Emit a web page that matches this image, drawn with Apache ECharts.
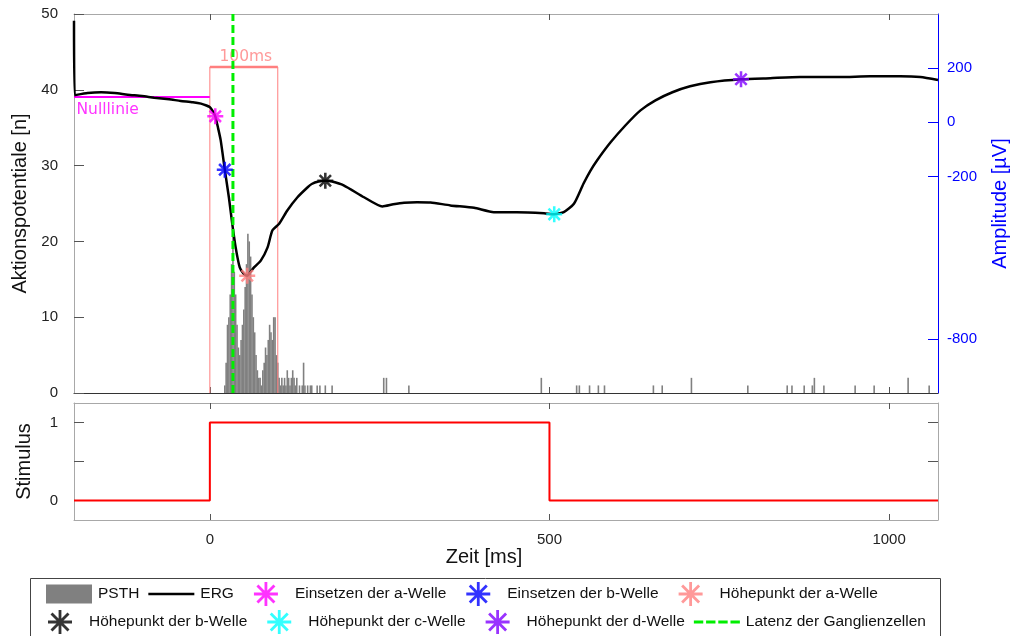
<!DOCTYPE html>
<html>
<head>
<meta charset="utf-8">
<script src="https://cdn.jsdelivr.net/npm/echarts@6/dist/echarts.min.js"></script>
<style>
  html, body { margin: 0; padding: 0; background: #fff; }
  #chart { width: 1013px; height: 636px; }
</style>
</head>
<body>
<div id="chart"></div>
<script>
// ---- time range and ticks (ms) ----
const T_MIN = -200;
const T_MAX = 1072;
const TIME_TICKS = [0, 500, 1000];

// ---- PSTH: bin start (ms) and spike count ----
const PSTH_T = [22, 24, 26, 28, 30, 32, 34, 36, 38, 40, 42, 44, 46, 48, 50, 52, 54, 56, 58, 60,
  62, 64, 66, 68, 70, 72, 74, 76, 78, 80, 82, 84, 86, 88, 90, 92, 94, 96, 98, 100,
  102, 104, 106, 108, 110, 112, 114, 116, 118, 120, 122, 124, 126, 128, 132, 136, 138, 140, 144, 148,
  150, 158, 162, 170, 180,
  256, 260, 293, 488, 540, 544, 559, 572, 581, 653, 666, 709, 792, 850, 857, 875, 887, 890, 904, 950, 978, 1028, 1059];
const PSTH_N = [1, 4, 9, 10, 13, 17, 21, 16, 13, 9, 6, 5, 7, 9, 11, 14, 17, 21, 20, 18,
  13, 10, 8, 5, 3, 2, 2, 1, 3, 4, 6, 5, 7, 9, 8, 7, 10, 10, 5, 4,
  2, 1, 2, 1, 2, 1, 3, 2, 1, 2, 3, 2, 1, 2, 1, 1, 4, 1, 1, 1,
  1, 1, 1, 1, 1,
  2, 2, 1, 2, 1, 1, 1, 1, 1, 1, 1, 2, 1, 1, 1, 1, 1, 2, 1, 1, 1, 2, 1];

// ---- ERG trace: time (ms) and amplitude (µV) ----
const ERG_T = [-200, -199, -180, -160, -140, -121, -100, -82, -60, -43, -25, -13, -5, 0, 4, 8, 12, 16, 22, 28,
  33, 38, 44, 50, 55, 60, 65, 75, 85, 92, 102, 114, 129, 144, 150, 160, 170, 180, 197, 227,
  254, 270, 286, 305, 325, 354, 389, 418, 452, 492, 507, 521, 536, 550, 560, 570, 590, 612, 634, 656,
  681, 707, 737, 782, 825, 869, 928, 972, 1016, 1046, 1072];
const ERG_UV = [375, 100, 108, 111, 108, 102, 97, 91, 85, 79, 74, 69, 62, 56, 42, 22, -20, -67, -175, -277,
  -375, -462, -536, -560, -567, -552, -536, -511, -462, -400, -375, -326, -277, -240, -228, -219, -216, -219, -233, -277,
  -311, -303, -297, -295, -296, -307, -316, -332, -332, -336, -340, -332, -301, -227, -180, -141, -74, -11, 44, 81,
  111, 133, 148, 159, 163, 167, 167, 170, 170, 167, 156];

// ---- characteristic ERG points [ms, µV] ----
const ONSET_A = [8, 22];
const ONSET_B = [22, -175];
const PEAK_A = [55, -567];
const PEAK_B = [170, -216];
const PEAK_C = [507, -340];
const PEAK_D = [782, 159];

// ---- annotations ----
const BASELINE_UV = 93;          // Nulllinie level
const LATENCY_MS = 34;           // ganglion cell latency
const WINDOW_MS = [0, 100];      // 100 ms analysis window
const WINDOW_TOP = 43;           // window height in counts

// ---- stimulus trace ----
const STIM_T = [-200, 0, 0, 500, 500, 1072];
const STIM_V = [0, 0, 1, 1, 0, 0];

// ---- axis ticks ----
const COUNT_MIN = 0, COUNT_MAX = 50, COUNT_STEP = 10;
const UV_MIN = -1000, UV_MAX = 400;
const UV_TICKS = [-800, -200, 0, 200];
const STIM_MIN = -0.25, STIM_MAX = 1.25;
const STIM_TICKS = [0, 0.5, 1];
const STIM_LABELS = [0, 1];

const zip = (a, b) => a.map((v, i) => [v, b[i]]);

// asterisk symbol made of four crossing bars (plot markers)
const STAR = 'path://M8.4 0L11.6 0L11.6 20L8.4 20Z M0 8.4L20 8.4L20 11.6L0 11.6Z ' +
  'M4.03 1.77L18.23 15.97L15.97 18.23L1.77 4.03Z M15.97 1.77L18.23 4.03L4.03 18.23L1.77 15.97Z';
// legend icons: 46 px wide boxes so every key lines up the same way
const STAR_KEY = 'path://M0 12L0 12Z M46 12L46 12Z ' +
  'M21.6 0L24.4 0L24.4 24L21.6 24Z M11 10.6L35 10.6L35 13.4L11 13.4Z ' +
  'M15.5 2.5L32.5 19.5L30.5 21.5L13.5 4.5Z M30.5 2.5L32.5 4.5L15.5 21.5L13.5 19.5Z';
const BAR_KEY = 'path://M0 0L46 0L46 19L0 19Z';
const LINE_KEY = 'path://M0 0L46 0L46 2.5L0 2.5Z';
const DASH_KEY = 'path://M0 0L10 0L10 3L0 3Z M13 0L23 0L23 3L13 3Z M26 0L36 0L36 3L26 3Z M39 0L49 0L49 3L39 3Z';

const SANS = '"Liberation Sans", Arial, sans-serif';
const DEJAVU = '"DejaVu Sans", sans-serif';
const LIGHT = '#a8a8a8';

function timeAxis(gridIndex, position, lineColor, showLabels, extra) {
  return Object.assign({
    type: 'value', gridIndex, position, min: T_MIN, max: T_MAX,
    axisLine: { show: true, onZero: false, lineStyle: { color: lineColor, width: 1 } },
    axisTick: { show: true, inside: true, length: 6, customValues: TIME_TICKS, lineStyle: { color: '#555' } },
    axisLabel: {
      show: showLabels, customValues: TIME_TICKS, formatter: v => String(v),
      fontSize: 15, color: '#222', fontFamily: SANS, margin: 12
    },
    splitLine: { show: false }
  }, extra || {});
}

const star = (name, color, pt) => ({
  name, type: 'scatter', xAxisIndex: 0, yAxisIndex: 1,
  symbol: STAR, symbolSize: 16, z: 6,
  itemStyle: { color },
  data: [pt]
});

const legendText = { fontSize: 15.5, color: '#111', fontFamily: SANS, padding: [0, 0, 0, 1] };

const option = {
  animation: false,
  backgroundColor: '#fff',
  grid: [
    { left: 74, right: 75, top: 14, height: 379, containLabel: false, outerBoundsMode: 'none' },
    { left: 74, right: 75, top: 403, height: 117, containLabel: false, outerBoundsMode: 'none' }
  ],
  xAxis: [
    timeAxis(0, 'bottom', '#333', false),
    timeAxis(0, 'top', LIGHT, false),
    timeAxis(1, 'bottom', LIGHT, true, {
      name: 'Zeit [ms]', nameLocation: 'middle', nameGap: 16,
      nameTextStyle: { fontSize: 20, color: '#111', fontFamily: SANS, padding: [0, 44, 0, 0] }
    }),
    timeAxis(1, 'top', LIGHT, false)
  ],
  yAxis: [
    {
      type: 'value', gridIndex: 0, position: 'left', min: COUNT_MIN, max: COUNT_MAX, interval: COUNT_STEP,
      name: 'Aktionspotentiale [n]', nameLocation: 'middle', nameGap: 40,
      nameTextStyle: { fontSize: 20, color: '#111', fontFamily: SANS },
      axisLine: { show: true, onZero: false, lineStyle: { color: LIGHT } },
      axisTick: { show: true, inside: true, length: 10, lineStyle: { color: '#555' } },
      axisLabel: { fontSize: 15, color: '#222', fontFamily: SANS, margin: 16 },
      splitLine: { show: false }
    },
    {
      type: 'value', gridIndex: 0, position: 'right', min: UV_MIN, max: UV_MAX,
      name: 'Amplitude [µV]', nameLocation: 'middle', nameGap: 52, nameRotate: 90,
      nameTextStyle: { fontSize: 20, color: '#0000ff', fontFamily: SANS },
      axisLine: { show: true, onZero: false, lineStyle: { color: '#0000ff' } },
      axisTick: { show: true, inside: true, length: 10, customValues: UV_TICKS, lineStyle: { color: '#0000ff' } },
      axisLabel: { customValues: UV_TICKS, fontSize: 15, color: '#0000ff', fontFamily: SANS, margin: 9 },
      splitLine: { show: false }
    },
    {
      type: 'value', gridIndex: 1, position: 'left', min: STIM_MIN, max: STIM_MAX,
      name: 'Stimulus', nameLocation: 'middle', nameGap: 40,
      nameTextStyle: { fontSize: 20, color: '#111', fontFamily: SANS },
      axisLine: { show: true, onZero: false, lineStyle: { color: LIGHT } },
      axisTick: { show: true, inside: true, length: 10, customValues: STIM_TICKS, lineStyle: { color: '#555' } },
      axisLabel: { customValues: STIM_LABELS, fontSize: 15, color: '#222', fontFamily: SANS, margin: 16 },
      splitLine: { show: false }
    },
    {
      type: 'value', gridIndex: 1, position: 'right', min: STIM_MIN, max: STIM_MAX,
      axisLine: { show: true, onZero: false, lineStyle: { color: LIGHT } },
      axisTick: { show: true, inside: true, length: 10, customValues: STIM_TICKS, lineStyle: { color: '#555' } },
      axisLabel: { show: false },
      splitLine: { show: false }
    }
  ],
  legend: [
    {
      left: 46, top: 582, padding: 0, itemWidth: 46, itemHeight: 24, itemGap: 9,
      selectedMode: false, textStyle: legendText,
      data: [
        { name: 'PSTH', icon: BAR_KEY },
        { name: 'ERG', icon: LINE_KEY },
        { name: 'Einsetzen der a-Welle', icon: STAR_KEY },
        { name: 'Einsetzen der b-Welle', icon: STAR_KEY },
        { name: 'Höhepunkt der a-Welle', icon: STAR_KEY }
      ]
    },
    {
      left: 37, top: 610, padding: 0, itemWidth: 46, itemHeight: 24, itemGap: 9,
      selectedMode: false, textStyle: legendText,
      data: [
        { name: 'Höhepunkt der b-Welle', icon: STAR_KEY },
        { name: 'Höhepunkt der c-Welle', icon: STAR_KEY },
        { name: 'Höhepunkt der d-Welle', icon: STAR_KEY },
        { name: 'Latenz der Ganglienzellen', icon: DASH_KEY }
      ]
    }
  ],
  graphic: [
    {
      type: 'rect', left: 28, top: 576, z: -1,
      shape: { width: 910, height: 80 },
      style: { fill: 'none', stroke: '#444', lineWidth: 1 }
    }
  ],
  series: [
    {
      name: 'PSTH', type: 'bar', xAxisIndex: 0, yAxisIndex: 0,
      barWidth: 1.6, z: 1,
      itemStyle: { color: '#808080' },
      data: zip(PSTH_T, PSTH_N)
    },
    {
      name: '100ms-Fenster', type: 'line', xAxisIndex: 0, yAxisIndex: 0,
      symbol: 'none', z: 2,
      lineStyle: { color: '#ff7f7f', width: 1 },
      data: [[WINDOW_MS[0], 0], [WINDOW_MS[0], WINDOW_TOP], [WINDOW_MS[1], WINDOW_TOP], [WINDOW_MS[1], 0]]
    },
    {
      name: '100ms-Oberkante', type: 'line', xAxisIndex: 0, yAxisIndex: 0,
      symbol: 'none', z: 2,
      lineStyle: { color: '#ff7f7f', width: 2.5 },
      data: [[WINDOW_MS[0], WINDOW_TOP], [WINDOW_MS[1], WINDOW_TOP]]
    },
    {
      name: '100ms-Text', type: 'scatter', xAxisIndex: 0, yAxisIndex: 0,
      symbolSize: 1, itemStyle: { color: 'rgba(0,0,0,0)' }, z: 2,
      label: {
        show: true, position: 'top', distance: 2, offset: [2, 0], formatter: '100ms',
        fontSize: 15.5, color: '#ff7f7f', fontFamily: DEJAVU
      },
      data: [[(WINDOW_MS[0] + WINDOW_MS[1]) / 2, WINDOW_TOP]]
    },
    {
      name: 'Nulllinie', type: 'line', xAxisIndex: 0, yAxisIndex: 1,
      symbol: 'none', z: 3,
      lineStyle: { color: '#ff00ff', width: 2 },
      data: [[T_MIN, BASELINE_UV], [0, BASELINE_UV]]
    },
    {
      name: 'Nulllinie-Text', type: 'scatter', xAxisIndex: 0, yAxisIndex: 1,
      symbolSize: 1, itemStyle: { color: 'rgba(0,0,0,0)' }, z: 3,
      label: {
        show: true, position: [3, 5], align: 'left', verticalAlign: 'top', formatter: 'Nulllinie',
        fontSize: 15.5, color: '#ff00ff', fontFamily: DEJAVU
      },
      data: [[T_MIN, BASELINE_UV]]
    },
    {
      name: 'ERG', type: 'line', xAxisIndex: 0, yAxisIndex: 1,
      symbol: 'none', z: 4, smooth: 0.2,
      lineStyle: { color: '#000', width: 2.5 },
      itemStyle: { color: '#000' },
      data: zip(ERG_T, ERG_UV)
    },
    {
      name: 'Latenz der Ganglienzellen', type: 'line', xAxisIndex: 0, yAxisIndex: 0,
      symbol: 'none', z: 5,
      lineStyle: { color: '#00ee00', width: 3, type: [8, 4] },
      itemStyle: { color: '#00ee00' },
      data: [[LATENCY_MS, COUNT_MIN], [LATENCY_MS, COUNT_MAX]]
    },
    star('Einsetzen der a-Welle', '#ff00ff', ONSET_A),
    star('Einsetzen der b-Welle', '#0000ff', ONSET_B),
    star('Höhepunkt der a-Welle', '#ff8080', PEAK_A),
    star('Höhepunkt der b-Welle', '#000000', PEAK_B),
    star('Höhepunkt der c-Welle', '#00ffff', PEAK_C),
    star('Höhepunkt der d-Welle', '#8000ff', PEAK_D),
    {
      name: 'Stimulus', type: 'line', xAxisIndex: 2, yAxisIndex: 2,
      symbol: 'none',
      lineStyle: { color: '#ff0000', width: 2 },
      data: zip(STIM_T, STIM_V)
    }
  ]
};

const chart = echarts.init(document.getElementById('chart'), null, { renderer: 'canvas' });
chart.setOption(option);
</script>
</body>
</html>
